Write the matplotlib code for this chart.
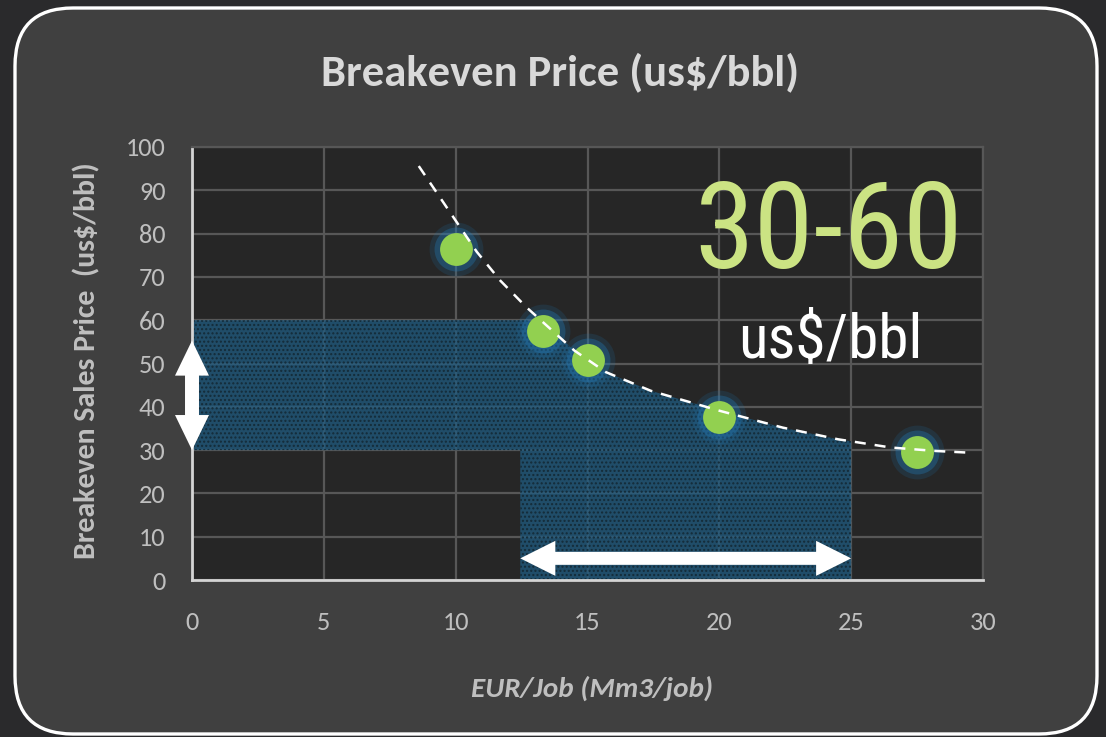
import numpy as np
import matplotlib
matplotlib.use("Agg")
import matplotlib.pyplot as plt
from matplotlib.patches import FancyBboxPatch, Polygon
from matplotlib.transforms import IdentityTransform

# Breakeven price per well versus EUR per job
eur = [10.0, 13.3, 15.0, 20.0, 27.5]
price = [76.5, 57.4, 50.8, 37.7, 29.6]

# Dashed trend curve
trend_eur = [8.6, 10.0, 10.8, 11.7, 12.7, 13.7, 14.5, 15.7, 17.4, 20.0, 22.4, 24.5, 26.5, 28.2, 29.5]
trend_price = [95.6, 83.0, 75.8, 69.1, 62.9, 57.4, 53.0, 48.0, 43.7, 39.1, 35.2, 32.5, 30.6, 29.8, 29.4]

# Highlighted ranges
price_low, price_high = 30, 60
eur_low, eur_high = 12.45, 25.0
arrow_price = 5.0          # level of the horizontal EUR arrow
arrow_price_top = 55.3     # top of the vertical price arrow

x_ticks = [0, 5, 10, 15, 20, 25, 30]
y_ticks = [0, 10, 20, 30, 40, 50, 60, 70, 80, 90, 100]

title = "Breakeven Price (us$/bbl)"
x_label = "EUR/Job (Mm3/job)"
y_label = "Breakeven Sales Price  (us$/bbl)"
big_range = "30-60"
big_unit = "us$/bbl"

W, H = 1106, 737
fig = plt.figure(figsize=(W / 100, H / 100), dpi=100, facecolor="#2a2a2c")

# rounded dark panel with white rim
panel = FancyBboxPatch((15, 3), 1082, 726, boxstyle="round,pad=0,rounding_size=58",
                       transform=IdentityTransform(), facecolor="#404040",
                       edgecolor="white", linewidth=2.4, zorder=-5)
fig.patches.append(panel)


def fx(px):
    return px / W


def fy(py):
    return 1 - py / H


ax = fig.add_axes([fx(192), fy(580), 791 / W, 433 / H])
ax.set_zorder(1)
ax.set_facecolor("#262626")
ax.set_xlim(0, 30)
ax.set_ylim(0, 100)
ax.set_xticks(x_ticks)
ax.set_yticks(y_ticks)
ax.grid(True, color="#575757", linewidth=1.6)
ax.set_axisbelow(True)
for side in ("top", "right"):
    ax.spines[side].set_color("#575757")
    ax.spines[side].set_linewidth(1.6)
for side in ("left", "bottom"):
    ax.spines[side].set_color("#d4d4d4")
    ax.spines[side].set_linewidth(2.0)
    ax.spines[side].set_zorder(2.5)
ax.tick_params(length=0, labelcolor="#bfbfbf", labelsize=19)
ax.tick_params(axis="x", pad=22)
ax.tick_params(axis="y", pad=19)
for lab in ax.get_xticklabels() + ax.get_yticklabels():
    lab.set_fontfamily("Carlito")

# shaded window: price band on the left, EUR band under the curve
inner = [t for t in trend_eur if eur_low < t < eur_high]
xs = np.array([eur_low] + inner + [eur_high])
top = np.minimum(np.interp(xs, trend_eur, trend_price), price_high)
verts = [(0, price_low), (0, price_high), (eur_low, price_high)]
verts += list(zip(xs, top))
verts += [(eur_high, 0), (eur_low, 0), (eur_low, price_low)]
plt.rcParams["hatch.linewidth"] = 1.0
shade = Polygon(verts, closed=True, facecolor=(0.12, 0.36, 0.51, 0.74),
                edgecolor="#142b38", hatch="....", linewidth=0, zorder=1)
ax.add_patch(shade)

# glowing points
ax.scatter(eur, price, s=1500, color="#1f6fa8", alpha=0.18, linewidths=0, zorder=3)
ax.scatter(eur, price, s=1000, color="#2378b5", alpha=0.35, linewidths=0, zorder=3)
ax.scatter(eur, price, s=560, color="#92d050", linewidths=0, zorder=4)

# trend curve
ax.plot(trend_eur, trend_price, color="white", linewidth=1.8,
        dashes=(4.4, 3.6), zorder=5)


def double_arrow(a0, a1, c, half_shaft, half_head, head_len, horizontal):
    """Outline of a double-headed arrow from a0 to a1 along one axis at c."""
    pts = [(a0, 0), (a0 + head_len, half_head), (a0 + head_len, half_shaft),
           (a1 - head_len, half_shaft), (a1 - head_len, half_head), (a1, 0),
           (a1 - head_len, -half_head), (a1 - head_len, -half_shaft),
           (a0 + head_len, -half_shaft), (a0 + head_len, -half_head)]
    if horizontal:
        return [(p, c + q) for p, q in pts]
    return [(c + q, p) for p, q in pts]


ax.add_patch(Polygon(double_arrow(eur_low, eur_high, arrow_price, 1.5, 4.05, 1.33, True),
                     closed=True, facecolor="white", linewidth=0, zorder=6, clip_on=False))
ax.add_patch(Polygon(double_arrow(price_low, arrow_price_top, 0, 0.265, 0.645, 8.1, False),
                     closed=True, facecolor="white", linewidth=0, zorder=6, clip_on=False))

# big range callout
ax.text((963 - 192) / 791, (580 - 268) / 433, big_range, transform=ax.transAxes,
        ha="right", va="baseline", fontsize=87, color="#cbe383",
        family="Roboto Condensed", zorder=7)
ax.text((830.5 - 192) / 791, (580 - 358) / 433, big_unit, transform=ax.transAxes,
        ha="center", va="baseline", fontsize=44, color="white",
        family="Roboto Condensed", zorder=7)

fig.text(fx(560), fy(72), title, ha="center", va="center", fontsize=32,
         fontweight="bold", color="#d9d9d9", family="Carlito")
fig.text(fx(87), fy(361), y_label, ha="center", va="center", rotation=90,
         fontsize=21.5, fontweight="bold", color="#bfbfbf", family="Carlito")
fig.text(fx(592), fy(688), x_label, ha="center", va="center", fontsize=21,
         fontweight="bold", fontstyle="italic", color="#bfbfbf", family="Carlito")

fig.savefig("out.png", dpi=100, facecolor=fig.get_facecolor())
